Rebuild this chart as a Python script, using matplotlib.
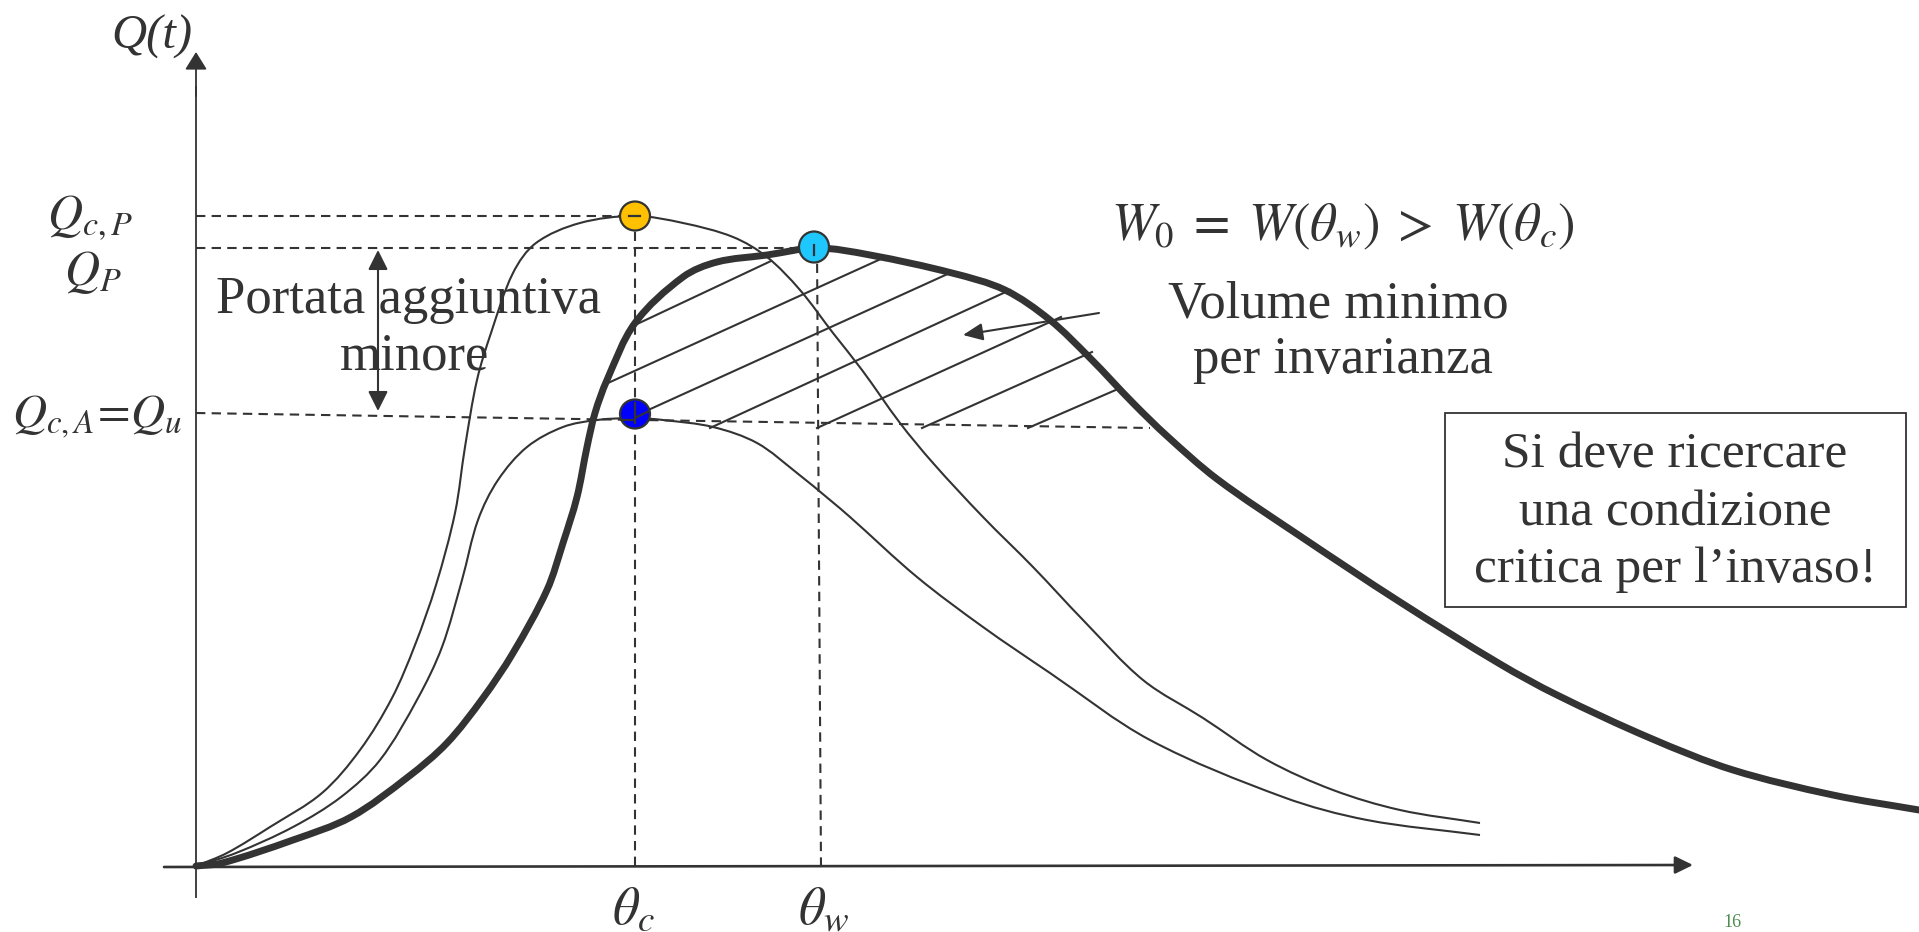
import numpy as np
import matplotlib
matplotlib.use("Agg")
import matplotlib.pyplot as plt
from matplotlib.path import Path
from matplotlib.patches import PathPatch, Ellipse, Rectangle, ArrowStyle

# ================= DATI (t orizzontale, Q verticale, origine = origine assi) =================
# idrogramma W (curva spessa, picco in theta_w)
t_w = [0, 26, 97, 155, 212, 251, 287, 317, 351, 367, 381, 391, 399, 411, 439, 487, 521,
       571, 621, 674, 756, 809, 854, 894, 937, 971, 1021, 1104, 1204, 1304, 1361, 1454, 1537, 1637, 1723]
q_w = [0, 3, 26, 49, 89, 123, 168, 213, 276, 323, 369, 419, 453, 486, 543, 589, 604,
       611, 618, 611, 593, 576, 546, 508, 463, 430, 387, 330, 264, 202, 171, 128, 96, 71, 56]

# idrogramma critico Q_c (picco Q_c,P in theta_c)
t_c = [0, 31, 74, 126, 164, 196, 219, 240, 259, 269, 281, 295, 317, 340, 384, 439, 487,
       537, 571, 604, 637, 666, 704, 737, 787, 837, 887, 947, 1007, 1071, 1137, 1204, 1284]
q_c = [0, 13, 39, 73, 116, 168, 221, 281, 353, 419, 486, 533, 593, 623, 643, 650, 643,
       629, 609, 576, 533, 496, 443, 403, 349, 299, 246, 186, 148, 106, 76, 56, 43]

# idrogramma Q_c,A (picco Q_u in theta_c)
t_a = [0, 40, 97, 145, 184, 222, 246, 266, 282, 302, 331, 367, 401, 439, 467, 517, 561,
       601, 634, 654, 721, 787, 854, 954, 1087, 1171, 1284]
q_a = [0, 13, 39, 69, 106, 168, 219, 286, 346, 386, 419, 439, 446, 448, 446, 439, 423,
       393, 366, 349, 289, 239, 193, 126, 69, 46, 31]

# livelli e istanti notevoli
theta_c, theta_w = 439, 622
Q_cP, Q_P = 650, 618
Q_u_start, Q_u_end = (0, 453), (954, 438)

# tratteggio del volume (inizio, fine)
hatch_t0 = [439, 412, 439, 514, 621, 726, 832]
hatch_q0 = [541, 483, 450, 438, 438, 438, 438]
hatch_t1 = [575, 687, 756, 814, 865, 896, 922]
hatch_q1 = [605, 608, 594, 576, 549, 514, 477]

INK = '#333333'

plt.rcParams['font.family'] = ['Liberation Serif', 'DejaVu Serif']
plt.rcParams['mathtext.fontset'] = 'stix'


def smooth_path(xs, ys):
    # curva liscia che passa per i punti letti (tangenti tipo Catmull-Rom)
    p = np.column_stack([xs, ys]).astype(float)
    n = len(p)
    d = np.linalg.norm(np.diff(p, axis=0), axis=1)
    tang = np.zeros_like(p)
    tang[0] = (p[1] - p[0]) / d[0]
    tang[-1] = (p[-1] - p[-2]) / d[-1]
    for i in range(1, n - 1):
        tang[i] = (p[i + 1] - p[i - 1]) / (d[i - 1] + d[i])
    verts = [p[0]]
    codes = [Path.MOVETO]
    for i in range(n - 1):
        verts += [p[i] + tang[i] * d[i] / 3, p[i + 1] - tang[i + 1] * d[i] / 3, p[i + 1]]
        codes += [Path.CURVE4] * 3
    return Path(verts, codes)


fig = plt.figure(figsize=(19.19, 9.32), dpi=100)
ax = fig.add_axes([0, 0, 1, 1])
ax.set_xlim(-196, 1723)
ax.set_ylim(-66, 866)
ax.axis('off')

# ================= ASSI =================
ax.plot([0, 0], [-32, 780], color=INK, lw=1.3, solid_capstyle='butt')
ax.annotate('', xy=(0, 814), xytext=(0, 770),
            arrowprops=dict(arrowstyle=ArrowStyle('-|>', head_length=0.45, head_width=0.28),
                            color=INK, lw=1.3, mutation_scale=24, shrinkA=0, shrinkB=0))
ax.annotate('', xy=(1497, 1), xytext=(-32, -1),
            arrowprops=dict(arrowstyle=ArrowStyle('-|>', head_length=0.45, head_width=0.22),
                            color=INK, lw=1.9, mutation_scale=24, shrinkA=0, shrinkB=0))

# ================= LINEE TRATTEGGIATE =================
dash = (0, (4.5, 3.0))
ax.plot([0, theta_c], [Q_cP, Q_cP], color=INK, lw=1.5, ls=dash, zorder=2)
ax.plot([0, theta_w], [Q_P, Q_P], color=INK, lw=1.5, ls=dash, zorder=2)
ax.plot([Q_u_start[0], Q_u_end[0]], [Q_u_start[1], Q_u_end[1]], color=INK, lw=1.5, ls=dash, zorder=2)
ax.plot([theta_c, theta_c], [Q_cP, 0], color=INK, lw=1.5, ls=dash, zorder=2)
ax.plot([theta_w - 1, theta_w + 3], [Q_P, 0], color=INK, lw=1.5, ls=dash, zorder=2)

# ================= TRATTEGGIO VOLUME =================
for a, b, c, e in zip(hatch_t0, hatch_q0, hatch_t1, hatch_q1):
    ax.plot([a, c], [b, e], color=INK, lw=1.5, zorder=3)

# ================= IDROGRAMMI =================
ax.add_patch(PathPatch(smooth_path(t_c, q_c), fill=False, ec=INK, lw=1.5, zorder=3))
ax.add_patch(PathPatch(smooth_path(t_a, q_a), fill=False, ec=INK, lw=1.5, zorder=3))
ax.add_patch(PathPatch(smooth_path(t_w, q_w), fill=False, ec=INK, lw=5.0, zorder=4,
                       capstyle='round', joinstyle='round'))

# ================= PUNTI =================
ax.add_patch(Ellipse((theta_c, Q_cP), 30, 29, fc='#FFC000', ec=INK, lw=1.6, zorder=5))
ax.add_patch(Ellipse((theta_w - 4, Q_P + 1), 30, 31, fc='#1FC7FF', ec=INK, lw=1.6, zorder=5))
ax.add_patch(Ellipse((theta_c, 452), 30, 29, fc='#0000FF', ec=INK, lw=1.6, zorder=5))
ax.plot([theta_c - 6, theta_c + 5], [Q_cP, Q_cP], color=INK, lw=1.6, zorder=6)
ax.plot([theta_w - 4, theta_w - 4], [Q_P + 3, Q_P - 7], color=INK, lw=1.6, zorder=6)
ax.plot([theta_c, theta_c], [463, 443], color=INK, lw=1.6, zorder=6)
ax.plot([theta_c - 12, theta_c - 2], [446, 446], color=INK, lw=1.6, zorder=6)
ax.plot([theta_c, theta_c + 14], [448, 455], color=INK, lw=1.6, zorder=6)

# ================= FRECCE =================
ax.annotate('', xy=(182, 455), xytext=(182, 616),
            arrowprops=dict(arrowstyle=ArrowStyle('<|-|>', head_length=0.5, head_width=0.25),
                            color=INK, lw=1.5, mutation_scale=24, shrinkA=0, shrinkB=0))
ax.annotate('', xy=(767, 531), xytext=(903, 553),
            arrowprops=dict(arrowstyle=ArrowStyle('-|>', head_length=0.5, head_width=0.22),
                            color=INK, lw=1.5, mutation_scale=24, shrinkA=0, shrinkB=0))

# ================= TESTI =================
ax.text(-44, 829, 'Q(t)', fontsize=35, style='italic', color=INK, ha='center', va='center')
ax.text(-106, 636, r'$Q_{c,P}$', fontsize=35, color=INK, ha='center', va='baseline')
ax.text(-103, 581, r'$Q_{P}$', fontsize=35, color=INK, ha='center', va='baseline')
ax.text(-99, 439, r'$Q_{c,A}\!=\!Q_u$', fontsize=34, color=INK, ha='center', va='baseline')
ax.text(437, -58, r'$\theta_c$', fontsize=38, color=INK, ha='center', va='baseline')
ax.text(628, -58, r'$\theta_w$', fontsize=38, color=INK, ha='center', va='baseline')
ax.text(1147, 626, r'$W_0\;=\;W(\theta_w)\;>\;W(\theta_c)$', fontsize=38, color=INK,
        ha='center', va='baseline')

ax.text(212, 553, 'Portata aggiuntiva', fontsize=38, color=INK, ha='center', va='baseline')
ax.text(219, 496, 'minore', fontsize=38, color=INK, ha='center', va='baseline')
ax.text(1142, 549, 'Volume minimo', fontsize=38, color=INK, ha='center', va='baseline')
ax.text(1147, 493, 'per invarianza', fontsize=38, color=INK, ha='center', va='baseline')

ax.add_patch(Rectangle((1249, 259), 461, 194, fill=False, ec=INK, lw=1.3, zorder=5))
box_lines = ['Si deve ricercare', 'una condizione', 'critica per l\u2019invaso!']
for txt, q in zip(box_lines, [399, 341, 284]):
    ax.text(1479, q, txt, fontsize=37, color=INK, ha='center', va='baseline')

ax.text(1536, -65, '16', fontsize=13, color='#4E8B4E', ha='center', va='bottom')

fig.savefig('out.png', dpi=100)
